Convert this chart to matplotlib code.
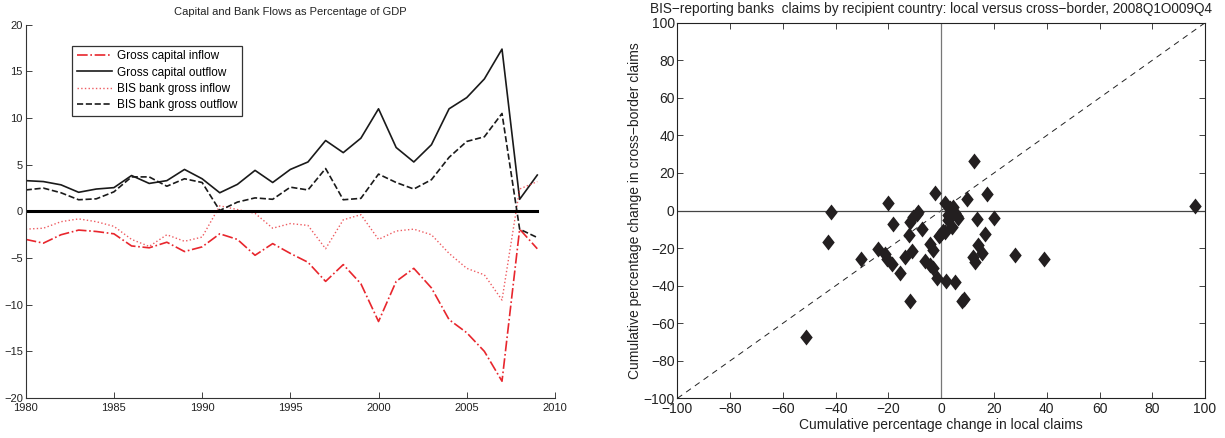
import numpy as np
import matplotlib
matplotlib.use('Agg')
import matplotlib.pyplot as plt

plt.rcParams['font.family'] = ['Liberation Sans', 'DejaVu Sans']

# Left panel: flows as % of GDP, 1980-2009
years = np.arange(1980, 2010)
gross_inflow = [-3.0, -3.4, -2.5, -2.0, -2.15, -2.4, -3.7, -3.9, -3.3, -4.3,
                -3.8, -2.4, -3.0, -4.7, -3.45, -4.5, -5.45, -7.5, -5.7, -7.75,
                -11.8, -7.5, -6.1, -8.2, -11.6, -13.0, -15.0, -18.2, -1.9, -4.0]
gross_outflow = [3.3, 3.2, 2.85, 2.05, 2.4, 2.55, 3.85, 3.0, 3.3, 4.5,
                 3.5, 2.0, 2.9, 4.4, 3.1, 4.5, 5.3, 7.6, 6.3, 7.85,
                 11.0, 6.85, 5.3, 7.15, 11.0, 12.2, 14.2, 17.4, 1.3, 3.9]
bis_inflow = [-1.9, -1.8, -1.1, -0.8, -1.1, -1.6, -3.0, -3.75, -2.5, -3.2,
              -2.75, 0.6, 0.2, -0.2, -1.8, -1.3, -1.5, -4.0, -0.9, -0.35,
              -3.0, -2.1, -1.9, -2.5, -4.5, -6.1, -6.8, -9.5, 2.4, 3.2]
bis_outflow = [2.3, 2.5, 2.0, 1.25, 1.35, 2.1, 3.7, 3.7, 2.7, 3.5,
               3.1, 0.1, 1.0, 1.45, 1.3, 2.6, 2.3, 4.6, 1.25, 1.4,
               4.0, 3.1, 2.4, 3.4, 5.8, 7.5, 8.0, 10.5, -1.9, -2.8]

# Right panel: cumulative % change in claims, local vs cross-border
local_chg = [12.4, -2.4, -20.2, -41.8, -42.9, 9.9, 17.2, 1.4, 3.3, 5.2,
             6.5, 2.7, 3.9, 1.4, -0.5, 4.5, 2.5, 13.4, 19.9, 16.6,
             -8.7, -10.6, -11.9, -18.4, -7.4, -12.1, -4.3, -3.0, -11.2, -13.8,
             -6.2, -4.3, -3.0, -1.7, 1.8, 5.2, 14.0, 15.3, 12.1, 12.8,
             -24.0, -21.4, -20.7, -18.5, -15.7, -30.3, -12.0, 7.8, 8.5, -51.1,
             27.9, 39.1, 96.1, -1.0, 0.5, -9.0, 4.0, 6.0]
cross_chg = [26.3, 9.5, 4.2, -0.9, -16.5, 6.3, 9.0, 4.2, 1.2, -1.5,
             -4.2, -5.1, -8.6, -11.3, -13.0, 2.0, -2.5, -4.7, -3.8, -12.5,
             -0.8, -3.3, -6.0, -7.4, -9.8, -13.0, -17.8, -21.0, -21.5, -24.6,
             -26.8, -29.0, -30.8, -36.1, -37.3, -38.3, -18.4, -22.5, -25.0, -27.5,
             -20.3, -23.0, -25.8, -28.3, -33.5, -25.7, -48.3, -48.0, -47.0, -67.3,
             -23.6, -25.9, 2.3, -13.5, -11.0, -2.0, 0.5, -3.0]

red = '#e8262d'

fig = plt.figure(figsize=(12.25, 4.38), dpi=100)

# ---- left panel
ax1 = fig.add_axes([0.021, 0.0913, 0.432, 0.852])
ax1.plot(years, gross_inflow, color=red, ls='-.', lw=1.2, label='Gross capital inflow')
ax1.plot(years, gross_outflow, color='#1a1a1a', ls='-', lw=1.2, label='Gross capital outflow')
ax1.plot(years, bis_inflow, color=red, ls=':', lw=1.0, alpha=0.75, label='BIS bank gross inflow')
ax1.plot(years, bis_outflow, color='#1a1a1a', ls='--', lw=1.2, label='BIS bank gross outflow')
ax1.plot([years[0], years[-1]], [0, 0], color='black', lw=2.2)
ax1.set_xlim(1980, 2010)
ax1.set_ylim(-20, 20)
ax1.set_xticks(np.arange(1980, 2011, 5))
ax1.set_yticks(np.arange(-20, 21, 5))
ax1.spines['top'].set_visible(False)
ax1.spines['right'].set_visible(False)
for s in ('left', 'bottom'):
    ax1.spines[s].set_color('#333333')
    ax1.spines[s].set_linewidth(0.8)
ax1.tick_params(direction='in', length=4, width=0.6, labelsize=8, pad=2, colors='#222222')
ax1.tick_params(axis='x', pad=3.5)
ax1.set_title('Capital and Bank Flows as Percentage of GDP', fontsize=8, pad=7, color='#222222')
leg = ax1.legend(loc='upper left', bbox_to_anchor=(0.088, 0.944), borderaxespad=0,
                 fontsize=8.5, frameon=True, fancybox=False, edgecolor='black',
                 handlelength=3.0, borderpad=0.4, labelspacing=0.35, handletextpad=0.4)
leg.get_frame().set_linewidth(0.9)

# ---- right panel
ax2 = fig.add_axes([0.553, 0.0906, 0.4307, 0.8574])
diamond = [(0, 1), (0.78, 0), (0, -1), (-0.78, 0), (0, 1)]
ax2.plot([-100, 100], [-100, 100], color='#222222', ls=(0, (6, 5)), lw=0.7)
ax2.axhline(0, color='#444444', lw=0.9)
ax2.axvline(0, color='#777777', lw=0.9)
ax2.plot(local_chg, cross_chg, ls='none', marker=diamond, markersize=11.5,
         color='#231f20', markeredgewidth=0)
ax2.set_xlim(-100, 100)
ax2.set_ylim(-100, 100)
ax2.set_xticks(np.arange(-100, 101, 20))
ax2.set_yticks(np.arange(-100, 101, 20))
ax2.tick_params(direction='in', length=4, width=0.6, labelsize=10, pad=2,
                top=True, right=True, colors='#222222')
ax2.tick_params(axis='x', pad=3)
for s in ax2.spines.values():
    s.set_linewidth(0.8)
    s.set_color('#222222')
ax2.set_xlabel('Cumulative percentage change in local claims', fontsize=10, labelpad=1, color='#222222')
ax2.set_ylabel('Cumulative percentage change in cross\u2212border claims', fontsize=10, labelpad=1, color='#222222')
ax2.set_title('BIS\u2212reporting banks  claims by recipient country: local versus cross\u2212border, 2008Q1O009Q4',
              fontsize=9.8, pad=7, color='#222222', x=0.48)

fig.savefig('out.png', dpi=100)
